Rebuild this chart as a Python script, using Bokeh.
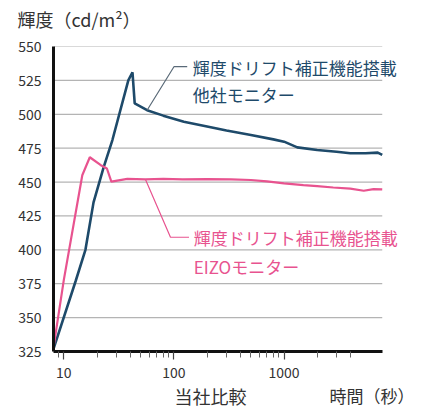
from bokeh.plotting import figure
from bokeh.models import Range1d, FixedTicker, Label
from bokeh.layouts import column
from bokeh.embed import file_html
from bokeh.resources import INLINE

# Data (time in seconds, luminance in cd/m2)
other_t = [8.05, 12.8, 15.7, 18.6, 23, 27.6, 38.5, 42, 44, 57, 80, 123, 200, 300, 500, 800, 1000, 1320, 2000, 3000, 4000, 5500, 7100, 7800]
other_y = [327, 377, 400, 435, 461, 481, 525, 531, 508, 503, 499, 494.5, 491, 488, 484.7, 481.5, 479.8, 475.6, 473.6, 472.3, 471.2, 471.2, 471.7, 470]
eizo_t = [8.05, 10, 14.7, 17.2, 21.5, 24.6, 27, 37.7, 55, 80, 120, 200, 330, 500, 700, 1000, 1500, 2000, 2800, 4000, 5300, 6500, 7800]
eizo_y = [328, 378, 455, 468.3, 462.6, 460, 450.3, 452.3, 452, 452.3, 452, 452.2, 452, 451.5, 450.5, 449, 447.8, 447, 446, 445.2, 443.6, 444.8, 444.6]

y_ticks = [325, 350, 375, 400, 425, 450, 475, 500, 525, 550]
x_major = [10, 100, 1000]
x_minor = [8, 9, 20, 30, 40, 50, 60, 70, 80, 90, 200, 300, 400, 500, 600, 700, 800, 900, 2000, 3000, 4000]

title_text = "輝度（cd/m²）"
xlabel_text = "当社比較"
unit_text = "時間（秒）"
other_label = ["輝度ドリフト補正機能搭載", "他社モニター"]
eizo_label = ["輝度ドリフト補正機能搭載", "EIZOモニター"]

X_START, X_END = 8.05, 7800      # extent of the axis / data
X_VIEW_END = 15000                # extra room on the right for the annotation text
BLUE = "#1e4a6a"
PINK = "#e8538f"
TXT = "#333333"
FONT = "Noto Sans CJK JP"
W = 421
H_TOP, H_MAIN, H_BOT = 31, 354, 21


def text_strip(height):
    f = figure(width=W, height=height, output_backend="svg", toolbar_location=None,
               x_axis_location=None, y_axis_location=None, min_border=0,
               x_range=Range1d(0, 1), y_range=Range1d(0, 1))
    f.frame_align = False
    f.grid.visible = False
    f.outline_line_color = None
    f.background_fill_color = "white"
    f.border_fill_color = "white"
    return f


# --- title strip
p_top = text_strip(H_TOP)
p_top.add_layout(Label(x=17, y=H_TOP - 18, x_units="screen", y_units="screen", text=title_text,
                       text_baseline="middle", text_align="left", text_font=FONT,
                       text_font_size="18px", text_color=TXT))

# --- main chart
p = figure(width=W, height=H_MAIN, x_axis_type="log",
           x_range=Range1d(X_START, X_VIEW_END), y_range=Range1d(325, 550),
           output_backend="svg", toolbar_location=None,
           min_border_left=53, min_border_right=8, min_border_top=15, min_border_bottom=34)
p.frame_align = False
p.outline_line_color = None
p.background_fill_color = "white"
p.border_fill_color = "white"

# grid (drawn only over the data extent)
p.xgrid.visible = False
p.ygrid.visible = False
p.segment(x0=X_START, x1=X_END, y0=y_ticks[1:], y1=y_ticks[1:], line_color="#b4b4b4", line_width=1.2)

p.yaxis.ticker = FixedTicker(ticks=y_ticks)
p.yaxis.major_tick_line_color = None
p.yaxis.minor_tick_line_color = None
p.yaxis.axis_line_width = 3
p.yaxis.axis_line_color = "#111111"
p.yaxis.major_label_standoff = 6
p.yaxis.major_label_text_font = FONT
p.yaxis.major_label_text_font_size = "14px"
p.yaxis.major_label_text_color = TXT

xa = p.xaxis[0]
xa.bounds = (X_START, X_END)
xa.ticker = FixedTicker(ticks=x_major, minor_ticks=x_minor)
xa.axis_line_width = 3
xa.axis_line_color = "#111111"
xa.major_tick_in = 0
xa.major_tick_out = 8
xa.minor_tick_in = 0
xa.minor_tick_out = 6
xa.major_tick_line_color = "#444444"
xa.minor_tick_line_color = "#666666"
xa.major_tick_line_width = 1.2
xa.minor_tick_line_width = 1
xa.major_label_standoff = 7
xa.major_label_text_font = FONT
xa.major_label_text_font_size = "14px"
xa.major_label_text_color = TXT
xa.major_label_overrides = {10: "10", 100: "100", 1000: "1000"}

# series
p.line(other_t, other_y, line_color=BLUE, line_width=2.6)
p.line(eizo_t, eizo_y, line_color=PINK, line_width=2.2)

# leader lines (anchored at data points of each series)
bi = 9
p.line([other_t[bi], 100, 132], [other_y[bi], 535.1, 535.1], line_color="#5a6a78", line_width=1.2)
ei = 8
p.line([eizo_t[ei], 93, 137], [eizo_y[ei], 409.3, 409.3], line_color=PINK, line_width=1.2)

for txt, xx, yy, col in [(other_label[0], 148, 534.6, BLUE), (other_label[1], 148, 514.3, BLUE),
                         (eizo_label[0], 151, 409.3, PINK), (eizo_label[1], 151, 387.7, PINK)]:
    p.add_layout(Label(x=xx, y=yy, text=txt, text_baseline="middle", text_align="left",
                       text_font=FONT, text_font_size="17px", text_color=col))

# --- caption strip below the axis
p_bot = text_strip(H_BOT)
p_bot.add_layout(Label(x=210, y=H_BOT - 10, x_units="screen", y_units="screen", text=xlabel_text,
                       text_baseline="middle", text_align="center", text_font=FONT,
                       text_font_size="18px", text_color=TXT))
p_bot.add_layout(Label(x=414, y=H_BOT - 10, x_units="screen", y_units="screen", text=unit_text,
                       text_baseline="middle", text_align="right", text_font=FONT,
                       text_font_size="17px", text_color=TXT))

layout = column(p_top, p, p_bot, spacing=0)
open("out.html", "w").write(file_html(layout, INLINE))
